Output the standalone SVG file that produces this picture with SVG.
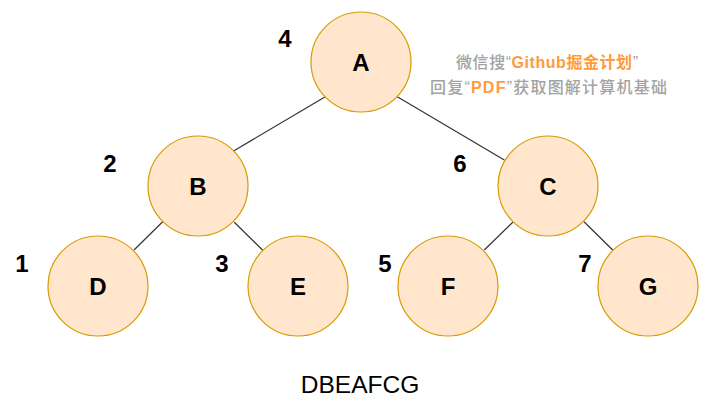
<svg xmlns="http://www.w3.org/2000/svg" width="720" height="414" viewBox="0 0 720 414">
<style>
.node circle{fill:#FFE6CC;stroke:#D79B00;stroke-width:1.2}
.node text{font-family:"Liberation Sans",Arial,sans-serif;font-weight:bold;font-size:24px;fill:#000;text-anchor:middle}
.num{font-family:"Liberation Sans",Arial,sans-serif;font-weight:bold;font-size:24px;fill:#000;text-anchor:middle}
#edges line{stroke:#333;stroke-width:1.2}
.wm{font-family:"Liberation Sans","Noto Sans CJK SC",sans-serif;font-size:16px;font-weight:500;fill:#A3A3A3;text-anchor:middle}
.or{fill:#FF9A3D;font-weight:bold}
</style>
<rect width="720" height="414" fill="#fff"/>
<g id="edges">
<line x1="325.3" y1="96.7" x2="234" y2="150.7"/>
<line x1="397.3" y1="96.7" x2="504.3" y2="160"/>
<line x1="162.7" y1="221.7" x2="134" y2="250"/>
<line x1="234.3" y1="222.3" x2="263.3" y2="250.7"/>
<line x1="513.3" y1="221.7" x2="484.3" y2="250"/>
<line x1="584" y1="221.7" x2="612.7" y2="250"/>
</g>
<g id="node-A" class="node"><circle cx="361" cy="62" r="50"/><text x="361" y="70.5">A</text></g>
<g id="node-B" class="node"><circle cx="198" cy="186" r="50"/><text x="198" y="194.5">B</text></g>
<g id="node-C" class="node"><circle cx="548" cy="186" r="50"/><text x="548" y="194.5">C</text></g>
<g id="node-D" class="node"><circle cx="98" cy="286" r="50"/><text x="98" y="294.5">D</text></g>
<g id="node-E" class="node"><circle cx="298" cy="286" r="50"/><text x="298" y="294.5">E</text></g>
<g id="node-F" class="node"><circle cx="448" cy="286" r="50"/><text x="448" y="294.5">F</text></g>
<g id="node-G" class="node"><circle cx="648" cy="286" r="50"/><text x="648" y="294.5">G</text></g>
<g id="labels">
<text class="num" x="285" y="47">4</text>
<text class="num" x="110" y="172">2</text>
<text class="num" x="460" y="172">6</text>
<text class="num" x="22" y="272">1</text>
<text class="num" x="222" y="272">3</text>
<text class="num" x="385" y="272">5</text>
<text class="num" x="585" y="272">7</text>
</g>
<g id="watermark">
<text class="wm" x="547" y="68" textLength="182" lengthAdjust="spacing">微信搜“<tspan class="or">Github掘金计划</tspan>”</text>
<text class="wm" x="548.5" y="93" textLength="237" lengthAdjust="spacing">回复“<tspan class="or">PDF</tspan>”获取图解计算机基础</text>
</g>
<text x="360" y="393" font-family="'Liberation Sans',Arial,sans-serif" font-size="24.5" text-anchor="middle" fill="#000">DBEAFCG</text>
</svg>
